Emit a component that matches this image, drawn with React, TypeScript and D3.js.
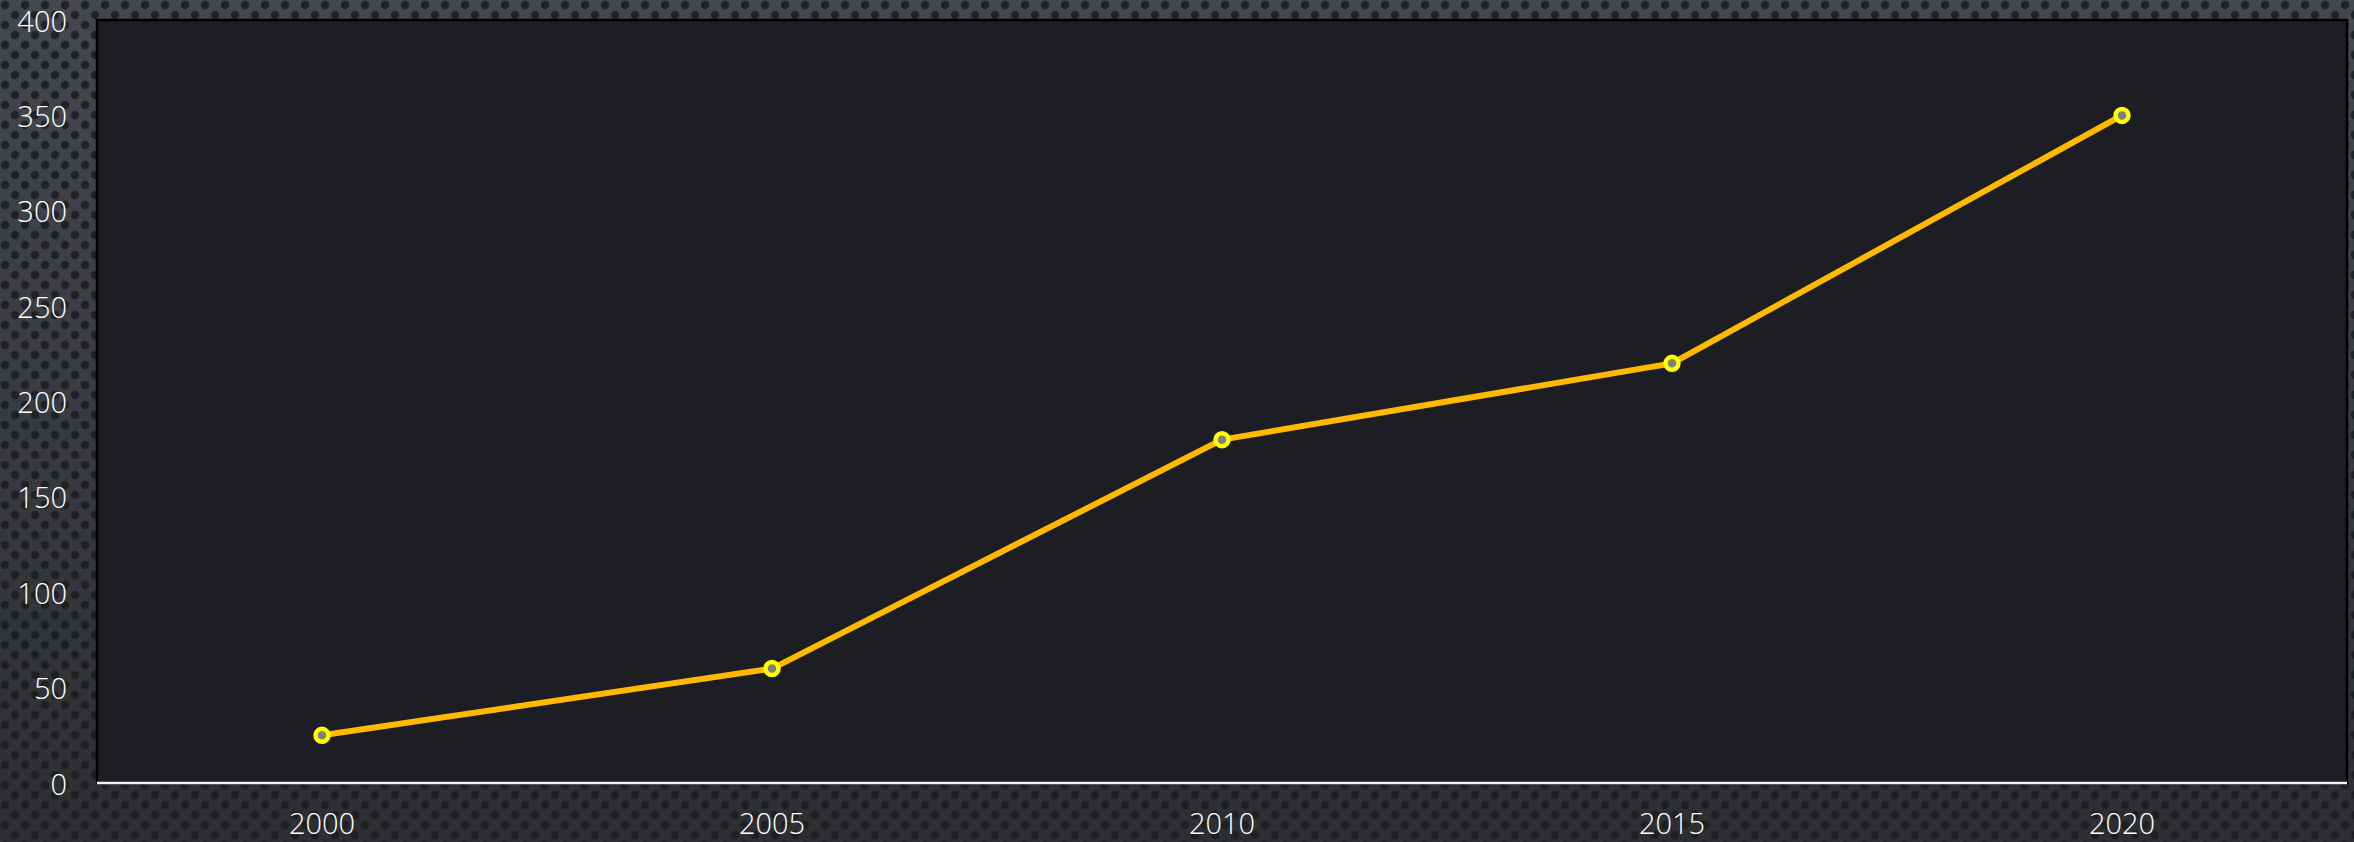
import React from "react";
import * as d3 from "d3";

const categories = ["2000", "2005", "2010", "2015", "2020"];
const values = [25, 60, 180, 220, 350];
const yTicks = [0, 50, 100, 150, 200, 250, 300, 350, 400];

const W = 2354;
const H = 842;
const margin = { left: 97, top: 20, right: 7, bottom: 59 };

export default function App() {
  const x = d3
    .scaleBand<string>()
    .domain(categories)
    .range([margin.left, W - margin.right])
    .padding(0);
  const y = d3.scaleLinear().domain([0, 400]).range([H - margin.bottom, margin.top]);
  const cx = (c: string) => (x(c) as number) + x.bandwidth() / 2;
  const data = categories.map((c, i) => ({ c, v: values[i] }));
  const line = d3
    .line<{ c: string; v: number }>()
    .x((d) => cx(d.c))
    .y((d) => y(d.v));
  const font = "'Century Gothic', 'Open Sans', 'DejaVu Sans', sans-serif";
  const plotW = W - margin.left - margin.right;
  const plotH = H - margin.top - margin.bottom;

  return (
    <svg
      width={W}
      height={H}
      style={{ position: "absolute", left: 0, top: 0, display: "block" }}
    >
      <defs>
        <linearGradient id="bgGrad" x1="0" y1="0" x2="0" y2="1">
          <stop offset="0" stopColor="#44474d" />
          <stop offset="1" stopColor="#2c2e32" />
        </linearGradient>
        <pattern id="dots" width="20" height="20" patternUnits="userSpaceOnUse">
          <circle cx="5" cy="5" r="4.2" fill="#1a1c20" opacity="0.85" />
          <circle cx="15" cy="15" r="4.2" fill="#1a1c20" opacity="0.85" />
        </pattern>
      </defs>
      <rect x={0} y={0} width={W} height={H} fill="url(#bgGrad)" />
      <rect x={0} y={0} width={W} height={H} fill="url(#dots)" />
      <rect
        x={margin.left}
        y={margin.top}
        width={plotW}
        height={plotH}
        fill="#1c1e23"
        stroke="#000"
        strokeWidth={2.5}
      />
      <line
        x1={margin.left}
        x2={W - margin.right}
        y1={y(0)}
        y2={y(0)}
        stroke="#f2f2f2"
        strokeWidth={2.5}
      />
      {yTicks.map((t) => (
        <text
          key={t}
          x={67}
          y={y(t)}
          textAnchor="end"
          dominantBaseline="central"
          fill="#ffffff"
          fontFamily={font}
          fontSize={29}
          fontWeight={300}
        >
          {t}
        </text>
      ))}
      {categories.map((c) => (
        <text
          key={c}
          x={cx(c)}
          y={822}
          textAnchor="middle"
          dominantBaseline="central"
          fill="#ffffff"
          fontFamily={font}
          fontSize={29}
          fontWeight={300}
        >
          {c}
        </text>
      ))}
      <path
        d={line(data) || ""}
        fill="none"
        stroke="#ffba00"
        strokeWidth={6}
        strokeLinejoin="round"
      />
      {data.map((d) => (
        <circle
          key={d.c}
          cx={cx(d.c)}
          cy={y(d.v)}
          r={6.5}
          fill="#7f7f7f"
          stroke="#ffff00"
          strokeWidth={4.5}
        />
      ))}
    </svg>
  );
}
